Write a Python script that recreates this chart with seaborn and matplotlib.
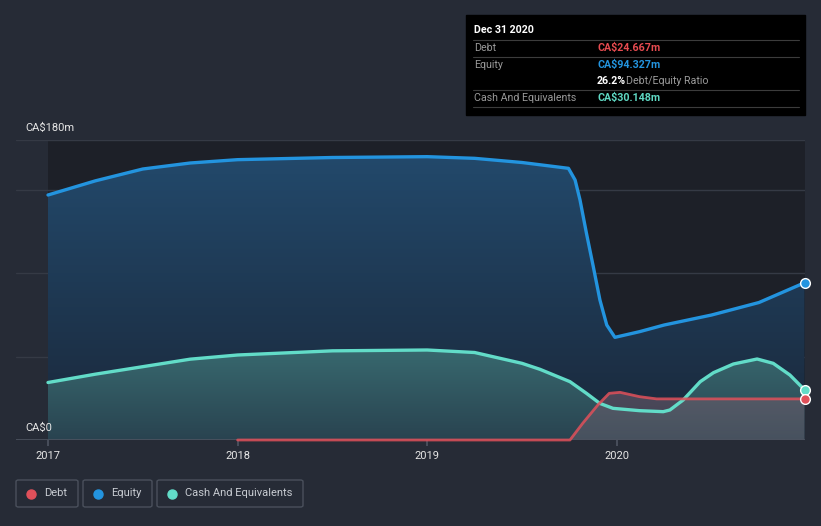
import matplotlib
matplotlib.use("Agg")
import matplotlib.pyplot as plt
import seaborn as sns
import pandas as pd
import numpy as np
from matplotlib.patches import Rectangle, FancyBboxPatch
from matplotlib.lines import Line2D
from matplotlib.colors import to_rgba

# ---------------- data ----------------
equity_t = [2017.0, 2017.25, 2017.5, 2017.75, 2018.0, 2018.5, 2019.0, 2019.25, 2019.5,
            2019.745, 2019.78, 2019.806, 2019.84, 2019.876, 2019.911, 2019.947, 2019.99,
            2020.12, 2020.25, 2020.5, 2020.75, 2020.99]
equity_v = [147, 155.5, 162.6, 166.2, 168.2, 169.5, 170, 169, 166.5,
            163, 156, 144, 124, 104, 84, 69, 61.6,
            65, 69, 75, 82.5, 94.327]

cash_t = [2017.0, 2017.25, 2017.5, 2017.75, 2018.0, 2018.5, 2019.0, 2019.25, 2019.5,
          2019.595, 2019.753, 2019.84, 2019.91, 2019.98, 2020.12, 2020.245, 2020.28,
          2020.35, 2020.44, 2020.51, 2020.615, 2020.74, 2020.825, 2020.913, 2020.99]
cash_v = [34.5, 39.5, 44, 48.5, 51, 53.5, 54, 52.5, 46,
          42.4, 35, 28, 22, 19, 17.6, 17, 18,
          24, 35, 40.4, 45.6, 48.6, 46, 39, 30.148]

debt_t = [2018.0, 2019.753, 2019.82, 2019.9, 2019.96, 2020.017, 2020.12, 2020.21, 2020.99]
debt_v = [0, 0, 10, 21, 28, 28.6, 26, 24.667, 24.667]

year_ticks = [2017, 2018, 2019, 2020]
y_labels = ["CA$0", "CA$180m"]

# ---------------- styling ----------------
BG = "#262b36"
PLOT_BG = "#1d2028"
C_DEBT = "#e0505a"
C_EQ = "#2394df"
C_CASH = "#62dcc8"

sns.set_theme(style="dark")
plt.rcParams["font.family"] = ["Roboto", "DejaVu Sans"]

W, H = 821, 526
fig = plt.figure(figsize=(W / 100, H / 100), dpi=100, facecolor=BG)


def fx(px):
    return px / W


def fy(py):
    return 1 - py / H


ax = fig.add_axes([fx(16), fy(440), fx(805) - fx(16), fy(140) - fy(440)])
ax.set_facecolor(BG)
x0 = 2017 + (16 - 48) / 189.6
x1 = 2017 + (805 - 48) / 189.6
ax.set_xlim(x0, x1)
ax.set_ylim(0, 180)
ax.axvspan(2017, x1, color=PLOT_BG, zorder=0, lw=0)

for s in ax.spines.values():
    s.set_visible(False)
for g in [50, 100, 150, 180]:
    ax.axhline(g, color="#353a45", lw=1, zorder=1)
ax.axhline(0, color="#4d5360", lw=1.2, zorder=6)


def gradient_fill(t, v, top, bottom, ytop, zorder):
    poly = ax.fill_between(t, 0, v, color="none", lw=0, zorder=zorder)
    ct, cb = np.array(to_rgba(top)), np.array(to_rgba(bottom))
    n = 256
    f = np.linspace(0, 1, n)[:, None]
    img = (cb[None, :] * (1 - f) + ct[None, :] * f)[:, None, :]
    im = ax.imshow(img, origin="lower", aspect="auto",
                   extent=[min(t), max(t), 0, ytop], zorder=zorder, interpolation="bilinear")
    path = poly.get_paths()[0]
    im.set_clip_path(path, transform=ax.transData)


gradient_fill(equity_t, equity_v, "#234b6e", "#1a2739", 180, 2)
gradient_fill(cash_t, cash_v, "#38696f", "#294350", 55, 3)
gradient_fill(debt_t, debt_v, (0.44, 0.36, 0.42, 0.6), (0.40, 0.38, 0.43, 0.5), 30, 4)
ax.set_xlim(x0, x1)
ax.set_ylim(0, 180)

df_eq = pd.DataFrame({"t": equity_t, "v": equity_v})
df_cash = pd.DataFrame({"t": cash_t, "v": cash_v})
df_debt = pd.DataFrame({"t": debt_t, "v": debt_v})

# lines
sns.lineplot(data=df_eq, x="t", y="v", ax=ax, color=C_EQ, lw=2.4, zorder=7)
sns.lineplot(data=df_cash, x="t", y="v", ax=ax, color=C_CASH, lw=2.4, zorder=8)
sns.lineplot(data=df_debt, x="t", y="v", ax=ax, color=C_DEBT, lw=2.0, alpha=0.85, zorder=9)
for ln in ax.lines:
    ln.set_solid_joinstyle("round")
    ln.set_solid_capstyle("round")
ax.lines[-1].set_clip_on(False)

# end markers
for t, v, c in [(equity_t[-1], equity_v[-1], C_EQ), (cash_t[-1], cash_v[-1], C_CASH),
                (debt_t[-1], debt_v[-1], C_DEBT)]:
    ax.plot([t], [v], "o", ms=7, mfc=c, mec="white", mew=1, zorder=10, clip_on=False)

ax.set_xlabel("")
ax.set_ylabel("")
ax.set_yticks([])
ax.set_xticks(year_ticks)
ax.set_xticklabels([str(y) for y in year_ticks], color="#e6e6e6", fontsize=8)
ax.tick_params(axis="x", length=4, color="#4d5360", pad=4, bottom=True)

# y labels
fig.text(fx(25), fy(128), y_labels[1], color="#e6e6e6", fontsize=8, va="center", ha="left")
fig.text(fx(25), fy(428), y_labels[0], color="#e6e6e6", fontsize=8, va="center", ha="left")

# tooltip box
fig.add_artist(Rectangle((fx(466), fy(115)), fx(805) - fx(466), fy(15) - fy(115),
                         transform=fig.transFigure, color="black", zorder=20))
for ly in [40, 57, 90, 107]:
    fig.add_artist(Line2D([fx(473), fx(799)], [fy(ly), fy(ly)], transform=fig.transFigure,
                          color="#3c3c3c", lw=0.8, zorder=21))
fs = 7.7
fig.text(fx(474), fy(30), "Dec 31 2020", color="white", fontsize=fs, fontweight="bold",
         va="center", zorder=22)
fig.text(fx(474), fy(48), "Debt", color="#9a9a9a", fontsize=fs, va="center", zorder=22)
fig.text(fx(597), fy(48), "CA$24.667m", color="#e64b50", fontsize=fs, fontweight="bold",
         va="center", zorder=22)
fig.text(fx(474), fy(65), "Equity", color="#9a9a9a", fontsize=fs, va="center", zorder=22)
fig.text(fx(597), fy(65), "CA$94.327m", color="#2394df", fontsize=fs, fontweight="bold",
         va="center", zorder=22)
fig.text(fx(597), fy(81), "26.2%", color="white", fontsize=fs, fontweight="bold",
         va="center", zorder=22)
fig.text(fx(626), fy(81), "Debt/Equity Ratio", color="#9a9a9a", fontsize=fs,
         va="center", zorder=22)
fig.text(fx(474), fy(98), "Cash And Equivalents", color="#9a9a9a", fontsize=fs,
         va="center", zorder=22)
fig.text(fx(597), fy(98), "CA$30.148m", color="#5fd8c3", fontsize=fs, fontweight="bold",
         va="center", zorder=22)

# legend boxes
legend_items = [("Debt", C_DEBT, 16, 78), ("Equity", C_EQ, 83, 152),
                ("Cash And Equivalents", C_CASH, 157, 303)]
for name, c, xa, xb in legend_items:
    fig.add_artist(FancyBboxPatch((fx(xa), fy(507)), fx(xb) - fx(xa), fy(480) - fy(507),
                                  boxstyle="round,pad=0,rounding_size=0.003",
                                  transform=fig.transFigure, fc="none", ec="#4a505c", lw=1))
    fig.add_artist(Line2D([fx(xa + 15)], [fy(493.5)], marker="o", ms=6.5, color=c,
                          transform=fig.transFigure, lw=0))
    fig.text(fx(xa + 28), fy(493.5), name, color="#c8ccd2", fontsize=8, va="center")

fig.savefig("out.png", dpi=100, facecolor=BG)
